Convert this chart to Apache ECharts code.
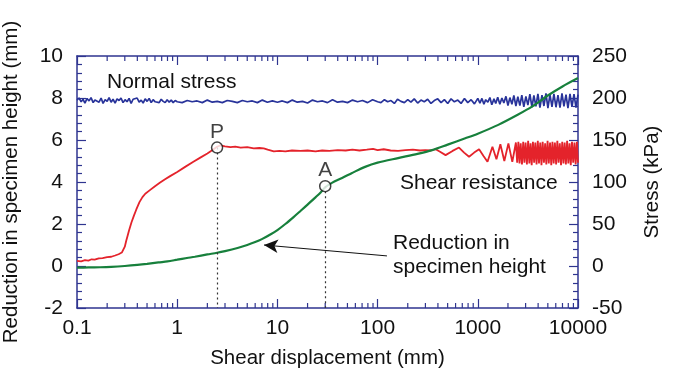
<!DOCTYPE html>
<html>
<head>
<meta charset="utf-8">
<script src="https://cdn.jsdelivr.net/npm/echarts@6/dist/echarts.min.js"></script>
<style>
  html, body { margin: 0; padding: 0; background: #ffffff; }
  #chart { width: 676px; height: 374px; }
</style>
</head>
<body>
<div id="chart"></div>
<script>
// ---- Axis tick labels ----
const xTickLabels = ['0.1', '1', '10', '100', '1000', '10000'];
const heightTicks = [-2, 0, 2, 4, 6, 8, 10];        // mm
const stressTicks = [-50, 0, 50, 100, 150, 200, 250]; // kPa

// ---- Normal stress (kPa) vs shear displacement (mm) ----
const normalStress = [
  [0.1,197.5],[0.105,200],[0.11,195.5],[0.115,198.5],[0.12,194],[0.126,199.5],[0.132,196.5],[0.138,200.5],
  [0.145,194.5],[0.151,197.5],[0.158,199],[0.166,195],[0.174,200],[0.182,193.5],[0.191,198],[0.2,196],
  [0.209,200.5],[0.219,195],[0.229,198.5],[0.24,194],[0.251,199],[0.263,197],[0.275,200],[0.288,194.5],
  [0.302,198],[0.316,195.5],[0.331,199.5],[0.347,193.5],[0.363,198.5],[0.38,196.5],[0.398,200],[0.417,195],
  [0.437,197.5],[0.457,194],[0.479,199],[0.501,196],[0.525,199.5],[0.55,194.5],[0.575,198],[0.603,195.5],
  [0.631,197.5],[0.661,194.5],[0.692,198.5],[0.724,196],[0.759,194.5],[0.794,198],[0.832,195],[0.871,197.5],
  [0.912,194.5],[0.955,197],[1.0,195.5],
  [1.12,194.5],[1.26,197],[1.41,195.5],[1.58,196.5],[1.78,194.5],[2.0,197.5],[2.24,195],[2.51,196],
  [2.82,194.5],[3.16,197],[3.55,196],[3.98,194.5],[4.47,197],[5.01,195.5],[5.62,196.5],[6.31,194.5],
  [7.08,197.5],[7.94,195],[8.91,196.5],[10,195],
  [11.2,196.5],[12.6,194.5],[14.1,197.5],[15.8,195],[17.8,196],[20,194],[22.4,197.5],[25.1,195.5],
  [28.2,196.5],[31.6,194.5],[35.5,198],[39.8,195],[44.7,196],[50.1,194.5],[56.2,197.5],[63.1,195.5],
  [70.8,197],[79.4,194.5],[89.1,198],[100,195.5],
  [108,194.5],[117,198],[126,195.5],[136,197],[147,193.5],[158,198.5],[171,196],[185,194.5],
  [200,198],[215,195],[232,199],[251,194],[271,197.5],[292,195.5],[316,198.5],[341,193.5],
  [368,197],[398,199],[430,194.5],[464,198],[501,193.5],[541,199],[584,195.5],[631,197.5],
  [681,193.5],[736,199.5],[794,194.5],[858,198],[926,193],[1000,199.5],
  [1050,194],[1100,199.5],[1150,192.5],[1200,198],[1260,195],[1320,200.5],[1380,192],[1450,199],
  [1510,193.5],[1580,201],[1660,192.5],[1740,200],[1820,194],[1910,202],[2000,191],[2090,200.5],
  [2190,192.5],[2290,203],[2400,190.5],[2510,201.5],[2630,191],[2750,203.5],[2880,189.5],[3020,202],
  [3160,191.5],[3310,204.5],[3470,189],[3630,203],[3800,190],[3980,205],[4170,188.5],[4370,203.5],
  [4570,190.5],[4790,205.5],[5010,188],[5250,204],[5500,189.5],[5750,205],[6030,189],[6310,203.5],
  [6610,188.5],[6920,205.5],[7240,190],[7590,204],[7940,188],[8320,205],[8710,189.5],[9120,204.5],
  [9550,188.5],[10000,204]
];

// ---- Shear resistance (kPa) ----
const shearResistance = [
  [0.1,6],[0.11,5.5],[0.12,7],[0.13,6.5],[0.14,8],[0.15,7.5],[0.165,9],[0.18,9.5],[0.2,10.5],
  [0.22,11],[0.24,12.5],[0.26,14],[0.28,16],[0.29,18],[0.3,23],[0.31,30],[0.32,36],[0.33,42],
  [0.35,52],[0.37,60],[0.39,67],[0.42,76],[0.45,82],[0.48,86],[0.53,90],[0.6,95],[0.67,99],
  [0.75,103],[0.85,107],[1.0,112],[1.2,118],[1.45,124],[1.7,129],[2.0,134],[2.25,138],[2.5,142],
  [2.7,143.5],[3.0,142.5],[3.4,141.5],[3.8,142],[4.3,141],[5.0,141.5],[5.8,140],[6.6,140.5],
  [7.3,140],[8.0,138.5],[9.2,136.5],[10.5,137],[12,136.5],[14,137.5],[17,137],[20,137.5],
  [24,136.5],[28,137.5],[33,137],[40,138],[48,137.5],[56,138.5],[66,137.5],[78,138.5],[90,139.5],
  [100,138],[115,139],[135,137.5],[160,137],[190,138],[225,138.5],[265,137.5],[300,138],[340,137.5],
  [380,139],[420,136],[477,132],[560,137],[649,141],[730,135],[818,130],[920,135],[1030,139],
  [1140,131],[1250,124],[1330,134],[1400,142],[1535,127],[1680,145],[1840,125],[2020,146],[2210,124],
  [2400,147],[2470,123],[2540,148],[2610,122],[2680,146],[2760,121],[2840,148],[2920,123],
  [3000,147],[3090,121],[3180,149],[3270,122],[3360,146],[3450,120],[3550,148],[3650,123],
  [3750,147],[3860,121],[3970,149],[4080,122],[4200,147],[4320,120],[4440,148],[4570,123],
  [4700,146],[4830,121],[4970,149],[5110,122],[5260,147],[5410,120],[5560,148],[5720,122],
  [5880,147],[6050,121],[6220,149],[6400,123],[6580,146],[6770,120],[6960,148],[7160,122],
  [7360,147],[7570,121],[7790,149],[8010,122],[8240,146],[8470,120],[8710,148],[8960,123],
  [9220,147],[9480,121],[9750,148],[10000,123]
];

// ---- Reduction in specimen height (mm) ----
const heightReduction = [
  [0.1,-0.08],[0.13,-0.07],[0.17,-0.06],[0.22,-0.04],[0.3,0],[0.4,0.05],[0.5,0.1],[0.65,0.17],
  [0.8,0.22],[1.0,0.3],[1.25,0.38],[1.5,0.44],[2.0,0.55],[2.5,0.63],[3.0,0.71],[4.0,0.86],
  [5.0,1.0],[6.0,1.14],[7.0,1.28],[8.5,1.5],[10,1.71],[12,2.0],[14.5,2.33],[17,2.62],[20,2.92],
  [24,3.27],[27,3.5],[30,3.75],[35,3.96],[43,4.17],[55,4.42],[75,4.72],[100,4.92],[160,5.14],
  [250,5.34],[350,5.52],[500,5.78],[750,6.08],[1000,6.3],[1600,6.72],[2500,7.2],[3500,7.6],
  [5000,8.12],[7000,8.55],[10000,8.95]
];

// ---- Marked points and the annotation arrow (data units) ----
const pointP = [2.5, 141];   // peak of shear resistance (kPa axis)
const pointA = [30, 3.8];    // point on height-reduction curve (mm axis)
const arrowFrom = [124, 0.48];
const arrowTo = [7.35, 1.0];

const AXIS = '#2f3590';
const FONT = '"Liberation Sans", Arial, Helvetica, sans-serif';

// minor ticks of the log axis (2..9 within each decade)
const minorTicks = [];
for (let e = -1; e < 4; e++) {
  for (let m = 2; m <= 9; m++) minorTicks.push([m * Math.pow(10, e), 0]);
}

const chart = echarts.init(document.getElementById('chart'), null, { renderer: 'canvas' });

const axisLabelStyle = { color: '#111', fontSize: 21, fontFamily: FONT };

const xBase = {
  type: 'log', logBase: 10, min: 0.1, max: 10000,
  axisLine: { show: true, onZero: false, lineStyle: { color: AXIS, width: 1.5 } },
  axisTick: { show: true, inside: true, length: 9, lineStyle: { color: AXIS, width: 1.2 } },
  splitLine: { show: false },
  minorTick: { show: false }
};

chart.setOption({
  animation: false,
  backgroundColor: '#ffffff',
  textStyle: { fontFamily: FONT },
  grid: { left: 77, right: 98, top: 56, bottom: 66, containLabel: false, outerBoundsMode: 'none' },
  xAxis: [
    Object.assign({}, xBase, {
      position: 'bottom',
      name: 'Shear displacement (mm)',
      nameLocation: 'middle',
      nameGap: 40,
      nameTextStyle: { color: '#111', fontSize: 20.5, fontFamily: FONT },
      axisLabel: Object.assign({}, axisLabelStyle, {
        margin: 10,
        formatter: (v) => xTickLabels[Math.round(Math.log10(v)) + 1]
      })
    }),
    Object.assign({}, xBase, {
      position: 'top',
      axisLabel: { show: false }
    })
  ],
  yAxis: [
    {
      type: 'value', position: 'left',
      min: heightTicks[0], max: heightTicks[heightTicks.length - 1], interval: 2,
      name: 'Reduction in specimen height (mm)',
      nameLocation: 'middle', nameRotate: 90, nameGap: 55,
      nameTextStyle: { color: '#111', fontSize: 20.5, fontFamily: FONT },
      axisLine: { show: true, onZero: false, lineStyle: { color: AXIS, width: 1.5 } },
      axisTick: { show: true, inside: true, length: 9, lineStyle: { color: AXIS, width: 1.2 } },
      minorTick: { show: true, splitNumber: 5, length: 5, lineStyle: { color: AXIS, width: 1.2 } },
      splitLine: { show: false },
      axisLabel: Object.assign({}, axisLabelStyle, { margin: 14 })
    },
    {
      type: 'value', position: 'right',
      min: stressTicks[0], max: stressTicks[stressTicks.length - 1], interval: 50,
      name: 'Stress (kPa)',
      nameLocation: 'middle', nameRotate: 90, nameGap: 64,
      nameTextStyle: { color: '#111', fontSize: 20.5, fontFamily: FONT },
      axisLine: { show: true, onZero: false, lineStyle: { color: AXIS, width: 1.5 } },
      axisTick: { show: true, inside: true, length: 9, lineStyle: { color: AXIS, width: 1.2 } },
      minorTick: { show: true, splitNumber: 5, length: 5, lineStyle: { color: AXIS, width: 1.2 } },
      splitLine: { show: false },
      axisLabel: Object.assign({}, axisLabelStyle, { margin: 14 })
    }
  ],
  series: [
    {
      name: 'Minor ticks',
      type: 'custom',
      xAxisIndex: 0, yAxisIndex: 0,
      silent: true, clip: false,
      data: minorTicks,
      renderItem: (params, api) => {
        const v = api.value(0);
        const b = api.coord([v, heightTicks[0]]);
        const t = api.coord([v, heightTicks[heightTicks.length - 1]]);
        const st = { stroke: AXIS, lineWidth: 1.2 };
        return {
          type: 'group',
          children: [
            { type: 'line', shape: { x1: b[0], y1: b[1], x2: b[0], y2: b[1] - 5 }, style: st },
            { type: 'line', shape: { x1: t[0], y1: t[1], x2: t[0], y2: t[1] + 5 }, style: st }
          ]
        };
      }
    },
    {
      name: 'Normal stress',
      type: 'line', xAxisIndex: 0, yAxisIndex: 1,
      data: normalStress, showSymbol: false, symbol: 'none',
      lineStyle: { color: '#28339a', width: 1.7 },
      z: 2
    },
    {
      name: 'Shear resistance',
      type: 'line', xAxisIndex: 0, yAxisIndex: 1,
      data: shearResistance, showSymbol: false, symbol: 'none',
      lineStyle: { color: '#e4232b', width: 1.8 },
      z: 3,
      markLine: {
        silent: true, symbol: 'none', animation: false,
        label: { show: false },
        lineStyle: { color: '#333', width: 1.2, type: [2, 3] },
        data: [[{ coord: pointP }, { coord: [pointP[0], stressTicks[0]] }]]
      }
    },
    {
      name: 'Reduction in specimen height',
      type: 'line', xAxisIndex: 0, yAxisIndex: 0,
      data: heightReduction, showSymbol: false, symbol: 'none', smooth: 0.3,
      lineStyle: { color: '#17803c', width: 2.2 },
      z: 4,
      markLine: {
        silent: true, animation: false,
        label: { show: false },
        data: [
          [{ coord: pointA, symbol: 'none', lineStyle: { color: '#333', width: 1.2, type: [2, 3] } },
           { coord: [pointA[0], heightTicks[0]], symbol: 'none' }],
          [{ coord: arrowFrom, symbol: 'none', lineStyle: { color: '#111', width: 1, type: 'solid' } },
           { coord: arrowTo, symbol: 'arrow', symbolSize: [10, 14] }]
        ]
      }
    },
    {
      name: 'P', type: 'scatter', xAxisIndex: 0, yAxisIndex: 1, z: 10,
      data: [{ name: 'P', value: pointP }],
      symbol: 'circle', symbolSize: 11,
      itemStyle: { color: '#ffffff', borderColor: '#111', borderWidth: 1.5 },
      label: { show: true, position: 'top', distance: -1, formatter: '{b}', color: '#111', fontSize: 21, fontFamily: FONT }
    },
    {
      name: 'A', type: 'scatter', xAxisIndex: 0, yAxisIndex: 0, z: 10,
      data: [{ name: 'A', value: pointA }],
      symbol: 'circle', symbolSize: 11,
      itemStyle: { color: '#ffffff', borderColor: '#111', borderWidth: 1.5 },
      label: { show: true, position: 'top', distance: -1, formatter: '{b}', color: '#111', fontSize: 21, fontFamily: FONT }
    }
  ],
  graphic: [
    { type: 'text', x: 107, y: 82, style: { text: 'Normal stress', font: '21px ' + FONT, fill: '#111', verticalAlign: 'middle' } },
    { type: 'text', x: 400, y: 183, style: { text: 'Shear resistance', font: '21px ' + FONT, fill: '#111', verticalAlign: 'middle' } },
    { type: 'text', x: 393, y: 255, style: { text: 'Reduction in\nspecimen height', font: '21px ' + FONT, fill: '#111', verticalAlign: 'middle', lineHeight: 24 } }
  ]
});
</script>
</body>
</html>
